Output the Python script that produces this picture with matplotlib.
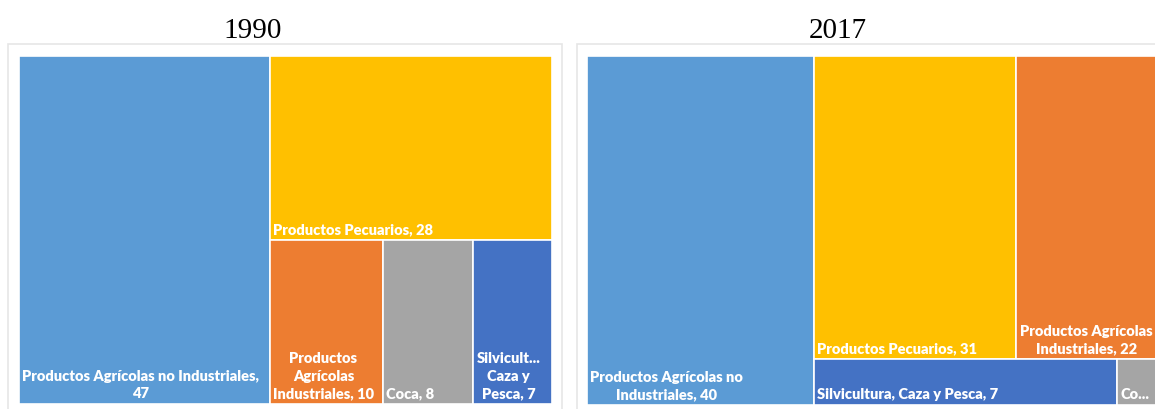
import matplotlib.pyplot as plt
from matplotlib.patches import Rectangle

# valor bruto de produccion agropecuaria, participacion (%)
cats_1990 = ['Productos Agrícolas no Industriales', 'Productos Pecuarios',
             'Productos Agrícolas Industriales', 'Coca', 'Silvicultura, Caza y Pesca']
vals_1990 = [47, 28, 10, 8, 7]
rows_1990 = [[1], [2, 3, 4]]
text_1990 = ['Productos Agrícolas no Industriales,\n{}', 'Productos Pecuarios, {}',
             'Productos\nAgrícolas\nIndustriales, {}', 'Coca, {}', 'Silvicult...\nCaza y\nPesca, {}']

cats_2017 = ['Productos Agrícolas no Industriales', 'Productos Pecuarios',
             'Productos Agrícolas Industriales', 'Silvicultura, Caza y Pesca', 'Coca']
vals_2017 = [40, 31, 22, 7, 1]
rows_2017 = [[1, 2], [3, 4]]
text_2017 = ['Productos Agrícolas no\nIndustriales, {}', 'Productos Pecuarios, {}',
             'Productos Agrícolas\nIndustriales, {}', 'Silvicultura, Caza y Pesca, {}', 'Co...']

colors = {'Productos Agrícolas no Industriales': '#5B9BD5',
          'Productos Pecuarios': '#FFC000',
          'Productos Agrícolas Industriales': '#ED7D31',
          'Coca': '#A5A5A5',
          'Silvicultura, Caza y Pesca': '#4472C4'}


def layout(vals, rows):
    # first item takes a full-height column, the rest is stacked in rows
    total = float(sum(vals))
    w0 = vals[0] / total
    rects = {0: (0, 0, w0, 1)}
    rest = sum(vals[i] for r in rows for i in r)
    top = 1.0
    for r in rows:
        rs = sum(vals[i] for i in r)
        h = rs / rest
        x = w0
        for i in r:
            w = (1 - w0) * vals[i] / rs
            rects[i] = (x, top - h, w, h)
            x += w
        top -= h
    return rects


def draw(ax, cats, vals, rows, texts):
    rects = layout(vals, rows)
    for i in range(len(vals)):
        x, y, w, h = rects[i]
        ax.add_patch(Rectangle((x, y), w, h, facecolor=colors[cats[i]],
                               edgecolor='white', linewidth=1.2))
        ax.annotate(texts[i].format(vals[i]), (x, y), xytext=(2.5, 3.5),
                    textcoords='offset points', ha='left', va='bottom',
                    multialignment='center', color='white', fontsize=10.5,
                    fontweight='heavy', family='Lato', linespacing=1.42)
    ax.set_xlim(0, 1)
    ax.set_ylim(0, 1)
    ax.axis('off')


W, H = 1155, 410
fig = plt.figure(figsize=(W / 100, H / 100), dpi=100)

# chart area borders
for x0, x1 in [(8, 562), (577, 1200)]:
    fig.patches.append(Rectangle((x0 / W, -0.1), (x1 - x0) / W, (H - 45) / H + 0.1,
                                 transform=fig.transFigure, facecolor='white',
                                 edgecolor='#e6e6e6', linewidth=1.2, zorder=-5))

ax1 = fig.add_axes([19 / W, (H - 405) / H, 533 / W, 348 / H])
ax2 = fig.add_axes([587 / W, (H - 406) / H, 573 / W, 349 / H])

draw(ax1, cats_1990, vals_1990, rows_1990, text_1990)
draw(ax2, cats_2017, vals_2017, rows_2017, text_2017)

fig.text(253 / W, 1 - 31 / H, '1990', ha='center', va='center',
         fontsize=21, family='Liberation Serif')
fig.text(838 / W, 1 - 31 / H, '2017', ha='center', va='center',
         fontsize=21, family='Liberation Serif')

fig.savefig('out.png', dpi=100)
